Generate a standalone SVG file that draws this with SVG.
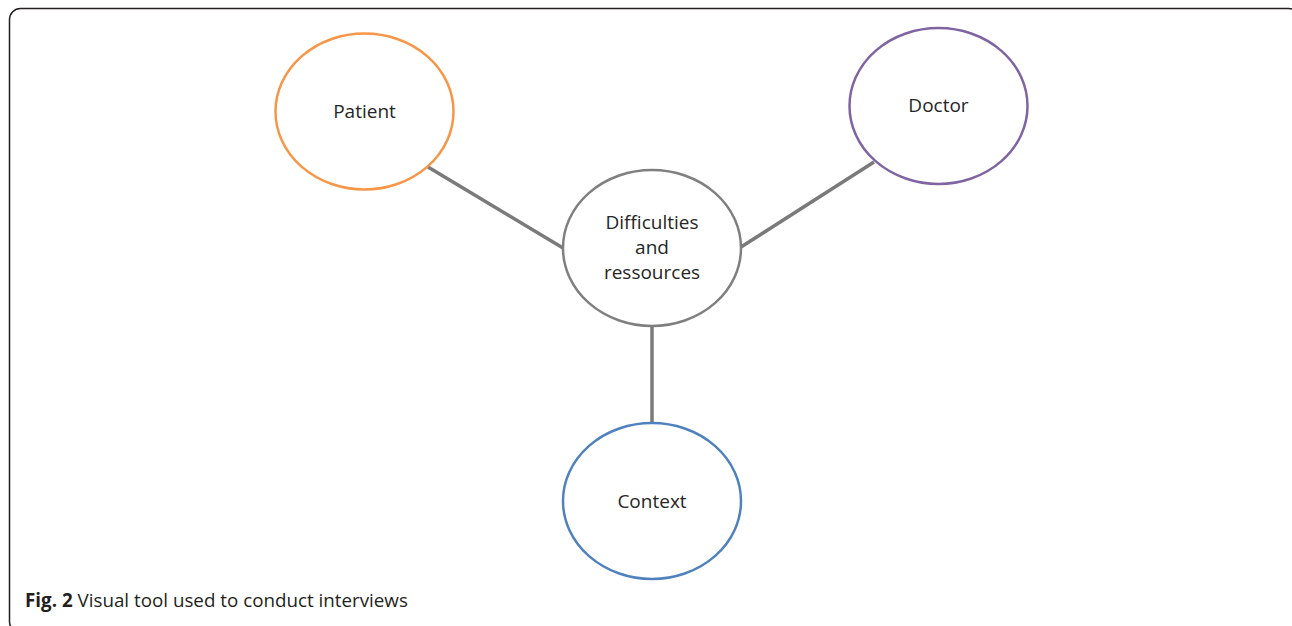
<svg xmlns="http://www.w3.org/2000/svg" width="1292" height="626" viewBox="0 0 1292 626">
<style>
.node{fill:#fff;stroke-width:2.5}
.lbl{font-family:"Open Sans","Noto Sans",sans-serif;font-size:19px;fill:#262626;text-anchor:middle}
.conn{stroke:#7a7a7a;stroke-width:3.5;fill:none}
.cap{font-family:"Open Sans","Noto Sans",sans-serif;font-size:18.8px;fill:#231f20}
</style>
<rect x="0" y="0" width="1292" height="626" fill="#fff"/>
<rect x="9.5" y="8.5" width="1290" height="624" rx="11" fill="none" stroke="#231f20" stroke-width="1.5"/>
<g id="connectors">
<line class="conn" x1="428" y1="167" x2="563" y2="248"/>
<line class="conn" x1="874" y1="162" x2="741" y2="247"/>
<line class="conn" x1="652" y1="326" x2="652" y2="423"/>
</g>
<g id="patient">
<ellipse class="node" cx="364.5" cy="111.5" rx="89" ry="78" stroke="#f79646"/>
<text class="lbl" x="364.5" y="118">Patient</text>
</g>
<g id="doctor">
<ellipse class="node" cx="938.5" cy="106" rx="89" ry="78" stroke="#8064a2"/>
<text class="lbl" x="938.5" y="112">Doctor</text>
</g>
<g id="center">
<ellipse class="node" cx="652" cy="248" rx="89" ry="78" stroke="#7f7f7f"/>
<text class="lbl" x="652" y="229">Difficulties</text>
<text class="lbl" x="652" y="254">and</text>
<text class="lbl" x="652" y="279">ressources</text>
</g>
<g id="context">
<ellipse class="node" cx="652" cy="501" rx="89" ry="78" stroke="#4f81bd"/>
<text class="lbl" x="652" y="508">Context</text>
</g>
<text class="cap" x="25" y="607"><tspan font-weight="bold">Fig. 2</tspan> Visual tool used to conduct interviews</text>
</svg>
